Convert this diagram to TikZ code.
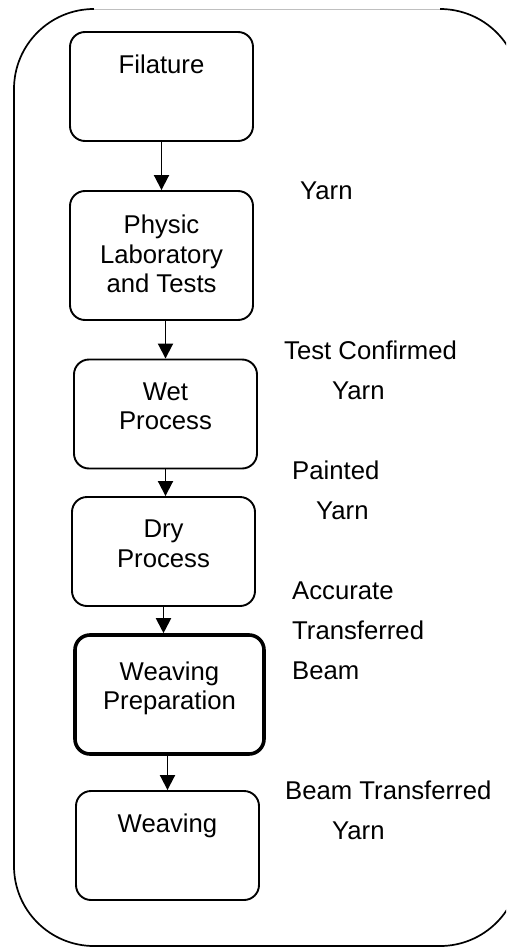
\documentclass[tikz,border=0pt]{standalone}
\usepackage{fontspec}
\setmainfont{Liberation Sans}
\usetikzlibrary{arrows.meta}

\begin{document}
\begin{tikzpicture}[x=1pt, y=-1pt,
		stage/.style={draw, line width=1.9pt, rounded corners=15pt, minimum width=183pt, minimum height=109pt, inner sep=0pt},
		stagetext/.style={anchor=north, align=center, inner sep=0pt, yshift=-24pt, font=\fontsize{25.7}{29.5}\selectfont},
		flowtext/.style={anchor=base west, inner sep=0pt, font=\fontsize{25.7}{30}\selectfont},
		flow/.style={line width=1.9pt, -{Triangle[length=15pt, width=15pt]}}]
		\pgfmathsetmacro{\outl}{14}
		\pgfmathsetmacro{\outr}{520}
		\pgfmathsetmacro{\outt}{9}
		\pgfmathsetmacro{\outb}{946}
		\pgfmathsetmacro{\outrad}{80}
		\clip (0, 0) rectangle (506, 947);
		\draw[black, line width=1.7pt, rounded corners=\outrad pt]
			(\outr-\outrad, \outt) -- (\outr, \outt) -- (\outr, \outb) -- (\outl, \outb) --
			(\outl, \outt) -- (\outl+\outrad, \outt);
		\draw[black!25, line width=0.8pt] (\outl+\outrad, \outt) -- (\outr-\outrad, \outt);
		\node[stage] (filature) at (161.5, 86.5) {};
		\node[stage, minimum height=129pt] (physic) at (161.5, 255.5) {};
		\node[stage] (wet) at (165.5, 414) {};
		\node[stage] (dry) at (163.5, 551.5) {};
		\node[stage, line width=3.6pt, minimum width=189pt, minimum height=119pt] (prep) at (169.5, 694.5) {};
		\node[stage] (weaving) at (167.5, 845.5) {};
		\node[stagetext] (filaturetext) at (filature.north) {Filature};
		\node[stagetext, yshift=-1pt] (physictext) at (physic.north) {Physic\\Laboratory\\and Tests};
		\node[stagetext] (wettext) at (wet.north) {Wet\\Process};
		\node[stagetext] (drytext) at (dry.north) {Dry\\Process};
		\node[stagetext, yshift=-4pt] (preptext) at (prep.north) {Weaving\\Preparation};
		\node[stagetext] (weavingtext) at (weaving.north) {Weaving};
		\draw[flow] (filature) -- (physic);
		\draw[flow] (physic.south -| wet.north) -- (wet.north);
		\draw[flow] (wet.south) -- (wet.south |- dry.north);
		\draw[flow] (dry.south) -- (dry.south |- prep.north);
		\draw[flow] (prep.south -| weaving.north) -- (weaving.north);
		\node[flowtext] (yarnA) at (300, 199) {Yarn};
		\node[flowtext] (testA) at (284, 359) {Test Confirmed};
		\node[flowtext] (yarnB) at (332, 399) {Yarn};
		\node[flowtext] (paintA) at (292, 479) {Painted};
		\node[flowtext] (yarnC) at (316, 519) {Yarn};
		\node[flowtext] (accA) at (292, 599) {Accurate};
		\node[flowtext] (transA) at (292, 639) {Transferred};
		\node[flowtext] (beamA) at (292, 679) {Beam};
		\node[flowtext] (beamB) at (285, 799) {Beam Transferred};
		\node[flowtext] (yarnD) at (332, 839) {Yarn};
	\end{tikzpicture}
\end{document}
